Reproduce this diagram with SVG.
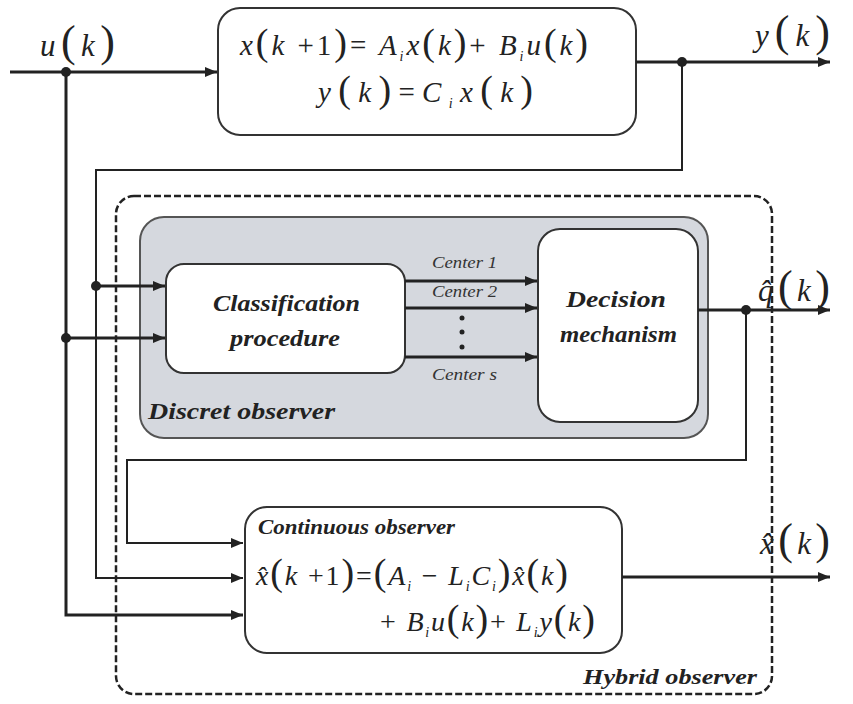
<svg xmlns="http://www.w3.org/2000/svg" width="853" height="704" viewBox="0 0 853 704">
<style>
text{font-family:"Liberation Serif","DejaVu Serif","Times New Roman",serif;}
.m{font-style:italic;fill:#222;}
.n{font-style:normal;}
.p{font-style:normal;font-size:38px;}
.lp{font-style:normal;font-size:44px;}
.sub{font-size:14px;}
.b{font-style:italic;font-weight:bold;fill:#222;}
.c{font-style:italic;fill:#333;font-size:16px;}
.w{fill:none;stroke:#222;stroke-linejoin:miter;}
.thick{stroke-width:3;}
.thin{stroke-width:2;}
.box{fill:#fff;stroke:#333;stroke-width:2;}
</style>
<defs>
<marker id="ah" viewBox="0 0 12 10" refX="12" refY="5" markerWidth="13" markerHeight="10" markerUnits="userSpaceOnUse" orient="auto">
<path d="M0,0 L12,5 L0,10 Z" fill="#222"/>
</marker>
</defs>
<rect width="853" height="704" fill="#fff"/>

<g id="hybrid">
<rect x="116" y="196" width="656" height="498" rx="18" fill="none" stroke="#222" stroke-width="2.5" stroke-dasharray="7 3"/>
<text class="b" x="583" y="684" font-size="22" textLength="174" lengthAdjust="spacingAndGlyphs">Hybrid observer</text>
</g>

<g id="plant">
<rect class="box" x="218" y="8" width="418" height="127" rx="22"/>
<text class="m" x="240" y="55" font-size="29" textLength="348" lengthAdjust="spacing">x<tspan class="p">(</tspan>k <tspan class="n">+1</tspan><tspan class="p">)</tspan><tspan class="n">=</tspan> A<tspan class="sub" dy="6">i</tspan><tspan dy="-6">x</tspan><tspan class="p">(</tspan>k<tspan class="p">)</tspan><tspan class="n">+</tspan> B<tspan class="sub" dy="6">i</tspan><tspan dy="-6">u</tspan><tspan class="p">(</tspan>k<tspan class="p">)</tspan></text>
<text class="m" x="318" y="102" font-size="29" textLength="215" lengthAdjust="spacing">y<tspan class="p">(</tspan>k<tspan class="p">)</tspan><tspan class="n">=</tspan>C<tspan class="sub" dy="6">i</tspan><tspan dy="-6">x</tspan><tspan class="p">(</tspan>k<tspan class="p">)</tspan></text>
</g>

<g id="discrete">
<rect x="140" y="217" width="568" height="221" rx="24" fill="#d5d8de" stroke="#555" stroke-width="2"/>
<text class="b" x="148" y="419" font-size="23" textLength="187" lengthAdjust="spacingAndGlyphs">Discret observer</text>
</g>

<g id="classification">
<rect class="box" x="166" y="264" width="239" height="109" rx="18"/>
<text class="b" x="213" y="311" font-size="24" textLength="147" lengthAdjust="spacingAndGlyphs">Classification</text>
<text class="b" x="230" y="346" font-size="24" textLength="110" lengthAdjust="spacingAndGlyphs">procedure</text>
</g>

<g id="decision">
<rect class="box" x="538" y="229" width="160" height="193" rx="22"/>
<text class="b" x="566" y="307" font-size="24" textLength="100" lengthAdjust="spacingAndGlyphs">Decision</text>
<text class="b" x="560" y="342" font-size="24" textLength="117" lengthAdjust="spacingAndGlyphs">mechanism</text>
</g>

<g id="continuous">
<rect class="box" x="245" y="507" width="377" height="146" rx="22"/>
<text class="b" x="258" y="534" font-size="21" textLength="197" lengthAdjust="spacingAndGlyphs">Continuous observer</text>
<text class="m" x="256" y="585" font-size="28" textLength="312" lengthAdjust="spacing">x̂<tspan class="p">(</tspan>k <tspan class="n">+1</tspan><tspan class="p">)</tspan><tspan class="n">=</tspan><tspan class="p">(</tspan>A<tspan class="sub" dy="6">i</tspan><tspan dy="-6" class="n"> − </tspan>L<tspan class="sub" dy="6">i</tspan><tspan dy="-6">C</tspan><tspan class="sub" dy="6">i</tspan><tspan dy="-6" class="p">)</tspan>x̂<tspan class="p">(</tspan>k<tspan class="p">)</tspan></text>
<text class="m" x="380" y="631" font-size="28" textLength="215" lengthAdjust="spacing"><tspan class="n">+ </tspan>B<tspan class="sub" dy="6">i</tspan><tspan dy="-6">u</tspan><tspan class="p">(</tspan>k<tspan class="p">)</tspan><tspan class="n">+ </tspan>L<tspan class="sub" dy="6">i</tspan><tspan dy="-6">y</tspan><tspan class="p">(</tspan>k<tspan class="p">)</tspan></text>
</g>

<g id="connectors">
<path class="w thick" d="M10,72 H217" marker-end="url(#ah)"/>
<path class="w thick" d="M66,72 V615 H243" marker-end="url(#ah)"/>
<path class="w thick" d="M66,338 H165" marker-end="url(#ah)"/>
<path class="w thick" d="M636,62 H830" marker-end="url(#ah)"/>
<path class="w thin" d="M682,62 V170 H96 V578 H243" marker-end="url(#ah)"/>
<path class="w thick" d="M96,286 H165" marker-end="url(#ah)"/>
<path class="w thick" d="M405,281 H537" marker-end="url(#ah)"/>
<path class="w thick" d="M405,308 H537" marker-end="url(#ah)"/>
<path class="w thick" d="M405,357 H537" marker-end="url(#ah)"/>
<path class="w thick" d="M698,310 H830" marker-end="url(#ah)"/>
<path class="w thin" d="M746,310 V460 H127 V543 H243" marker-end="url(#ah)"/>
<path class="w thick" d="M622,577 H830" marker-end="url(#ah)"/>
<g fill="#222">
<circle cx="66" cy="72" r="5"/>
<circle cx="682" cy="62" r="5"/>
<circle cx="96" cy="286" r="5"/>
<circle cx="66" cy="338" r="5"/>
<circle cx="746" cy="310" r="5"/>
<circle cx="462" cy="318" r="2.5"/>
<circle cx="462" cy="332" r="2.5"/>
<circle cx="462" cy="347" r="2.5"/>
</g>
<text class="c" x="432" y="268" textLength="65" lengthAdjust="spacingAndGlyphs">Center 1</text>
<text class="c" x="432" y="297" textLength="65" lengthAdjust="spacingAndGlyphs">Center 2</text>
<text class="c" x="432" y="380" textLength="65" lengthAdjust="spacingAndGlyphs">Center s</text>
</g>

<g id="labels">
<text class="m" x="40" y="56" font-size="31" textLength="75" lengthAdjust="spacing">u<tspan class="lp">(</tspan>k<tspan class="lp">)</tspan></text>
<text class="m" x="755" y="46" font-size="31" textLength="75" lengthAdjust="spacing">y<tspan class="lp">(</tspan>k<tspan class="lp">)</tspan></text>
<text class="m" x="758" y="301" font-size="31" textLength="72" lengthAdjust="spacing">q̂<tspan class="lp">(</tspan>k<tspan class="lp">)</tspan></text>
<text class="m" x="760" y="554" font-size="31" textLength="70" lengthAdjust="spacing">x̂<tspan class="lp">(</tspan>k<tspan class="lp">)</tspan></text>
</g>
</svg>
